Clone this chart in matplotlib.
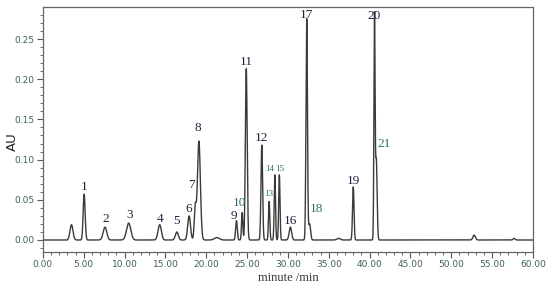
import matplotlib
matplotlib.use("Agg")
import matplotlib.pyplot as plt
import numpy as np
from matplotlib.ticker import MultipleLocator, FormatStrFormatter

# peak table: retention time (min), height (AU), sigma (min)
peak_rt = [3.5, 5.05, 7.6, 10.5, 14.3, 16.4, 17.9, 18.65, 19.1, 21.3, 23.7, 24.4, 24.9,
           26.8, 27.7, 28.4, 28.95, 30.3, 32.3, 32.65, 36.2, 38.0, 40.6, 40.82, 52.8, 57.7]
peak_h = [0.019, 0.057, 0.016, 0.021, 0.019, 0.010, 0.030, 0.040, 0.123, 0.003, 0.024,
          0.034, 0.213, 0.118, 0.048, 0.081, 0.081, 0.016, 0.275, 0.020, 0.002, 0.066,
          0.275, 0.100, 0.006, 0.002]
peak_w = [0.18, 0.12, 0.22, 0.26, 0.2, 0.18, 0.17, 0.12, 0.18, 0.3, 0.1, 0.08, 0.11,
          0.1, 0.08, 0.08, 0.08, 0.15, 0.09, 0.12, 0.2, 0.09, 0.07, 0.1, 0.15, 0.12]

# peak labels: text, x, y
lab_text = ["1", "2", "3", "4", "5", "6", "7", "8", "9", "10", "11", "12", "13", "14",
            "15", "16", "17", "18", "19", "20", "21"]
lab_x = [5.1, 7.7, 10.6, 14.3, 16.3, 17.8, 18.2, 19.0, 23.4, 24.1, 24.9, 26.8, 27.6,
         27.8, 29.0, 30.3, 32.3, 33.5, 38.0, 40.5, 41.75]
lab_y = [0.066, 0.026, 0.031, 0.026, 0.024, 0.038, 0.069, 0.139, 0.030, 0.046, 0.222,
         0.127, 0.057, 0.088, 0.088, 0.024, 0.280, 0.038, 0.073, 0.278, 0.119]
lab_small = ["13", "14", "15"]
lab_teal = ["10", "13", "14", "15", "18", "21"]

t = np.linspace(0, 60, 6001)
trace = np.zeros_like(t)
for rt, h, w in zip(peak_rt, peak_h, peak_w):
    trace += h * np.exp(-0.5 * ((t - rt) / w) ** 2)
trace[t < 3.0] = 0.0

fig = plt.figure(figsize=(5.5, 2.86), dpi=100)
ax = fig.add_axes([0.078, 0.119, 0.891, 0.8565])
ax.plot(t, trace, color="#3a3a3a", lw=1.0)

ax.set_xlim(0, 60)
ax.set_ylim(-0.0149, 0.2898)
ax.xaxis.set_major_locator(MultipleLocator(5))
ax.xaxis.set_minor_locator(MultipleLocator(1))
ax.yaxis.set_major_locator(MultipleLocator(0.05))
ax.yaxis.set_minor_locator(MultipleLocator(0.01))
ax.xaxis.set_major_formatter(FormatStrFormatter("%.2f"))
ax.yaxis.set_major_formatter(FormatStrFormatter("%.2f"))
ax.tick_params(which="major", direction="out", length=4, width=0.8, color="#555555",
               labelsize=6.5, labelcolor="#3f5f5f", pad=2)
ax.tick_params(which="minor", direction="out", length=2.2, width=0.6, color="#555555")
for s in ax.spines.values():
    s.set_color("#666666")
    s.set_linewidth(0.9)

ax.set_ylabel("AU", fontsize=9.5, color="#222222")
ax.yaxis.set_label_coords(-0.05, 0.45)
ax.set_xlabel("minute /min", fontsize=9, family="Liberation Serif", color="#333333",
              labelpad=2)

for txt, x, y in zip(lab_text, lab_x, lab_y):
    col = "#2a7070" if txt in lab_teal else "#222240"
    fs = 6.5 if txt in lab_small else 9.5
    ax.text(x, y, txt, ha="center", va="center", fontsize=fs,
            family="Liberation Serif", color=col)

fig.savefig("out.png", dpi=100)
